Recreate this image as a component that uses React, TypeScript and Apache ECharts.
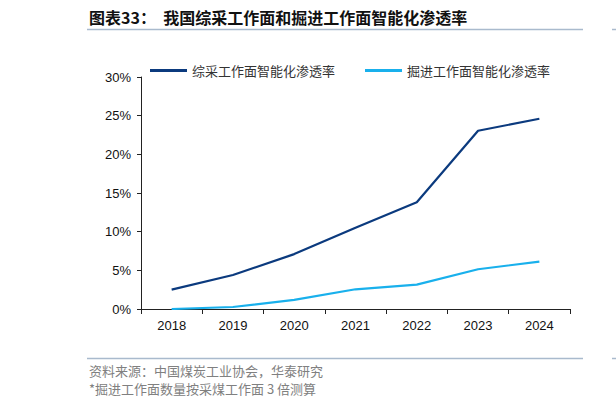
import React, { useEffect, useRef } from "react";
import * as echarts from "echarts";

const categories = ["2018", "2019", "2020", "2021", "2022", "2023", "2024"];
const seriesNames = ["综采工作面智能化渗透率", "掘进工作面智能化渗透率"];
const fullyMechanized = [2.5, 4.4, 7.1, 10.5, 13.8, 23.05, 24.6];
const excavation = [0.0, 0.26, 1.17, 2.55, 3.15, 5.14, 6.13];
const yTicks = { min: 0, max: 30, interval: 5 };
const titleText = "图表33：  我国综采工作面和掘进工作面智能化渗透率";
const sourceText = "资料来源：中国煤炭工业协会，华泰研究";
const noteText = "*掘进工作面数量按采煤工作面 3 倍测算";

const CJK = '"Noto Sans CJK SC", "Noto Sans", sans-serif';
const LATIN = '"Liberation Sans", Arial, sans-serif';

export default function App() {
  const ref = useRef<HTMLDivElement>(null);
  useEffect(() => {
    document.body.style.margin = "0";
    if (!ref.current) return;
    const chart = echarts.init(ref.current, null, { renderer: "svg" });
    const legendCommon = {
      icon: "rect",
      itemWidth: 37,
      itemHeight: 3,
      itemGap: 20,
      top: 59,
      textStyle: { fontSize: 13, color: "#333", fontFamily: CJK },
    };
    chart.setOption({
      animation: false,
      backgroundColor: "#fff",
      grid: { left: 141, right: 46, top: 77, bottom: 100, containLabel: false },
      legend: [
        { ...legendCommon, left: 145, data: [seriesNames[0]] },
        { ...legendCommon, left: 360, data: [seriesNames[1]] },
      ],
      xAxis: {
        type: "category",
        data: categories,
        boundaryGap: true,
        axisLine: { lineStyle: { color: "#222", width: 1 } },
        axisTick: { show: true, length: 5, lineStyle: { color: "#222" } },
        axisLabel: { fontSize: 13, color: "#111", fontFamily: LATIN, margin: 10 },
        splitLine: { show: false },
      },
      yAxis: {
        type: "value",
        min: yTicks.min,
        max: yTicks.max,
        interval: yTicks.interval,
        axisLine: { show: true, lineStyle: { color: "#222", width: 1 } },
        axisTick: { show: true, length: 4, lineStyle: { color: "#222" } },
        axisLabel: {
          fontSize: 13,
          color: "#111",
          fontFamily: LATIN,
          margin: 10,
          formatter: (v: number) => `${v}%`,
        },
        splitLine: { show: false },
      },
      series: [
        {
          name: seriesNames[0],
          type: "line",
          data: fullyMechanized,
          symbol: "none",
          color: "#0b3a7e",
          lineStyle: { width: 2.2, color: "#0b3a7e" },
        },
        {
          name: seriesNames[1],
          type: "line",
          data: excavation,
          symbol: "none",
          color: "#19b0ec",
          lineStyle: { width: 2.2, color: "#19b0ec" },
        },
      ],
      graphic: [
        {
          type: "text",
          left: 89,
          top: 9,
          style: {
            text: titleText,
            fontSize: 16,
            fontWeight: "bold",
            fill: "#111",
            fontFamily: CJK,
          },
        },
        {
          type: "line",
          shape: { x1: 87, y1: 29.5, x2: 583, y2: 29.5 },
          style: { stroke: "#a9bacd", lineWidth: 1.5 },
        },
        {
          type: "line",
          shape: { x1: 612, y1: 29.5, x2: 616, y2: 29.5 },
          style: { stroke: "#a9bacd", lineWidth: 1.5 },
        },
        {
          type: "line",
          shape: { x1: 87, y1: 358.5, x2: 583, y2: 358.5 },
          style: { stroke: "#a9bacd", lineWidth: 1.5 },
        },
        {
          type: "line",
          shape: { x1: 612, y1: 358.5, x2: 616, y2: 358.5 },
          style: { stroke: "#a9bacd", lineWidth: 1.5 },
        },
        {
          type: "text",
          left: 89,
          top: 364,
          style: { text: sourceText, fontSize: 13, fill: "#808080", fontFamily: CJK },
        },
        {
          type: "text",
          left: 89,
          top: 382,
          style: { text: noteText, fontSize: 13, fill: "#808080", fontFamily: CJK },
        },
      ],
    });
    return () => chart.dispose();
  }, []);
  return <div ref={ref} style={{ width: 616, height: 409 }} />;
}
